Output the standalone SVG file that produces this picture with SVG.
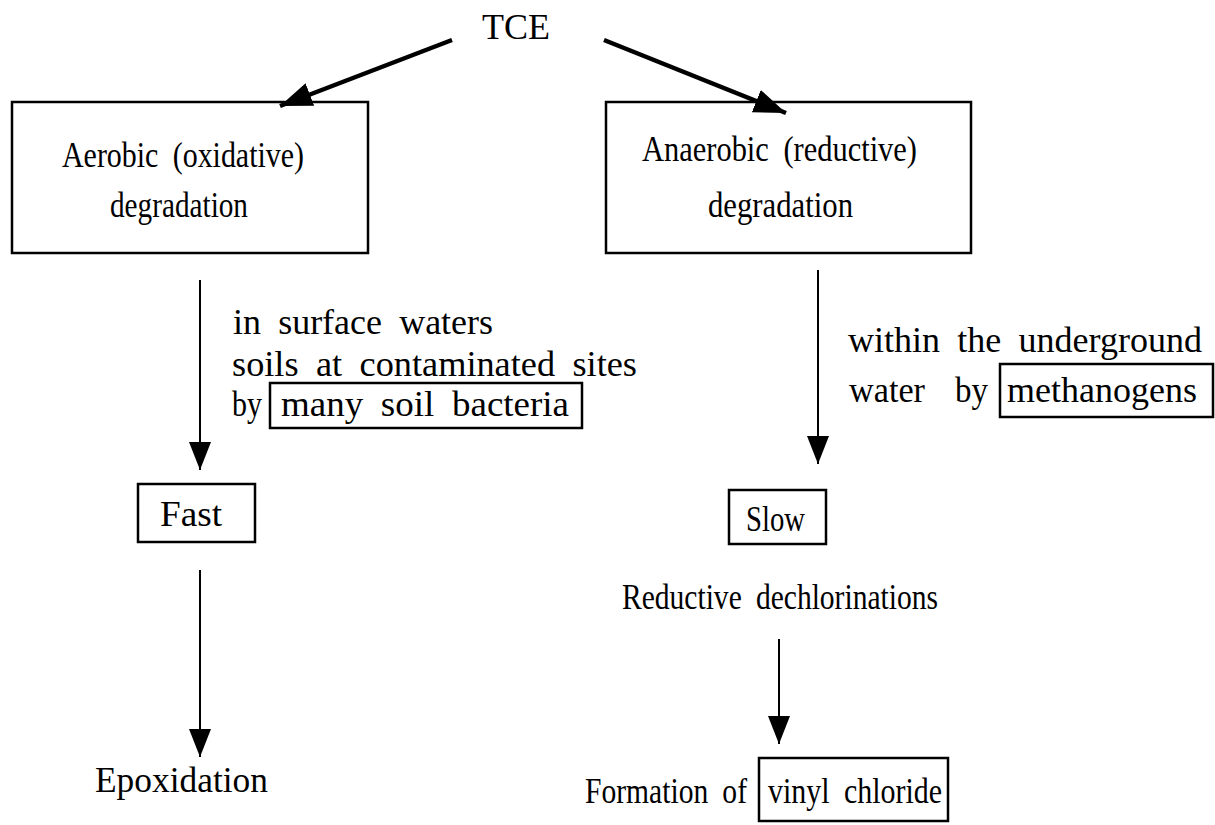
<svg xmlns="http://www.w3.org/2000/svg" width="1215" height="825" viewBox="0 0 1215 825" font-family="'Liberation Serif', 'Times New Roman', serif">
<style>
text{font-family:'Liberation Serif','Times New Roman',serif;font-size:35px;fill:#000;word-spacing:8px}
.box{fill:none;stroke:#000;stroke-width:2.5}
.thin{stroke:#000;stroke-width:2;fill:none}
.thick{stroke:#000;stroke-width:4.5;fill:none}
</style>
<defs>
<marker id="ah" markerUnits="userSpaceOnUse" markerWidth="30" markerHeight="24" refX="28" refY="11" orient="auto">
<path d="M0,0 L28,11 L0,22 z" fill="#000"/>
</marker>
<marker id="ahb" markerUnits="userSpaceOnUse" markerWidth="34" markerHeight="26" refX="32" refY="12" orient="auto">
<path d="M0,0 L32,12 L0,24 z" fill="#000"/>
</marker>
</defs>
<rect width="1215" height="825" fill="#fff"/>
<g id="connectors">
<line class="thick" x1="452" y1="40" x2="280" y2="106" marker-end="url(#ahb)"/>
<line class="thick" x1="604" y1="40" x2="786" y2="113" marker-end="url(#ahb)"/>
<line class="thin" x1="200" y1="280" x2="200" y2="470" marker-end="url(#ah)"/>
<line class="thin" x1="200" y1="570" x2="200" y2="757" marker-end="url(#ah)"/>
<line class="thin" x1="818" y1="270" x2="818" y2="464" marker-end="url(#ah)"/>
<line class="thin" x1="779" y1="639" x2="779" y2="744" marker-end="url(#ah)"/>
</g>
<g id="tce"><text x="482" y="39" font-size="36" textLength="68" lengthAdjust="spacingAndGlyphs">TCE</text></g>
<g id="aerobic">
<rect class="box" x="12" y="102" width="356" height="151"/>
<text x="62" y="167" textLength="242" lengthAdjust="spacingAndGlyphs">Aerobic (oxidative)</text>
<text x="110" y="217" textLength="138" lengthAdjust="spacingAndGlyphs">degradation</text>
</g>
<g id="anaerobic">
<rect class="box" x="606" y="102" width="365" height="151"/>
<text x="642" y="161" textLength="275" lengthAdjust="spacingAndGlyphs">Anaerobic (reductive)</text>
<text x="708" y="217" textLength="145" lengthAdjust="spacingAndGlyphs">degradation</text>
</g>
<g id="aerobic-conditions">
<text x="233" y="334" textLength="260" lengthAdjust="spacingAndGlyphs">in surface waters</text>
<text x="232" y="376" textLength="405" lengthAdjust="spacingAndGlyphs">soils at contaminated sites</text>
<text x="232" y="416" textLength="30" lengthAdjust="spacingAndGlyphs">by</text>
<rect class="box" x="270" y="383" width="312" height="45"/>
<text x="281" y="416" textLength="288" lengthAdjust="spacingAndGlyphs">many soil bacteria</text>
</g>
<g id="fast">
<rect class="box" x="138" y="484" width="117" height="58"/>
<text x="160" y="526" textLength="62" lengthAdjust="spacingAndGlyphs">Fast</text>
</g>
<g id="epoxidation"><text x="95" y="792" textLength="173" lengthAdjust="spacingAndGlyphs">Epoxidation</text></g>
<g id="anaerobic-conditions">
<text x="848" y="352" textLength="354" lengthAdjust="spacingAndGlyphs">within the underground</text>
<text x="849" y="402" textLength="76" lengthAdjust="spacingAndGlyphs">water</text>
<text x="955" y="402" textLength="33" lengthAdjust="spacingAndGlyphs">by</text>
<rect class="box" x="1000" y="364" width="213" height="53"/>
<text x="1007" y="402" textLength="190" lengthAdjust="spacingAndGlyphs">methanogens</text>
</g>
<g id="slow">
<rect class="box" x="729" y="490" width="97" height="54"/>
<text x="746" y="531" textLength="59" lengthAdjust="spacingAndGlyphs">Slow</text>
</g>
<g id="dechlorination"><text x="622" y="609" textLength="316" lengthAdjust="spacingAndGlyphs">Reductive dechlorinations</text></g>
<g id="formation">
<text x="585" y="803" textLength="162" lengthAdjust="spacingAndGlyphs">Formation of</text>
<rect class="box" x="759" y="758" width="189" height="63"/>
<text x="768" y="803" textLength="174" lengthAdjust="spacingAndGlyphs">vinyl chloride</text>
</g>
</svg>
